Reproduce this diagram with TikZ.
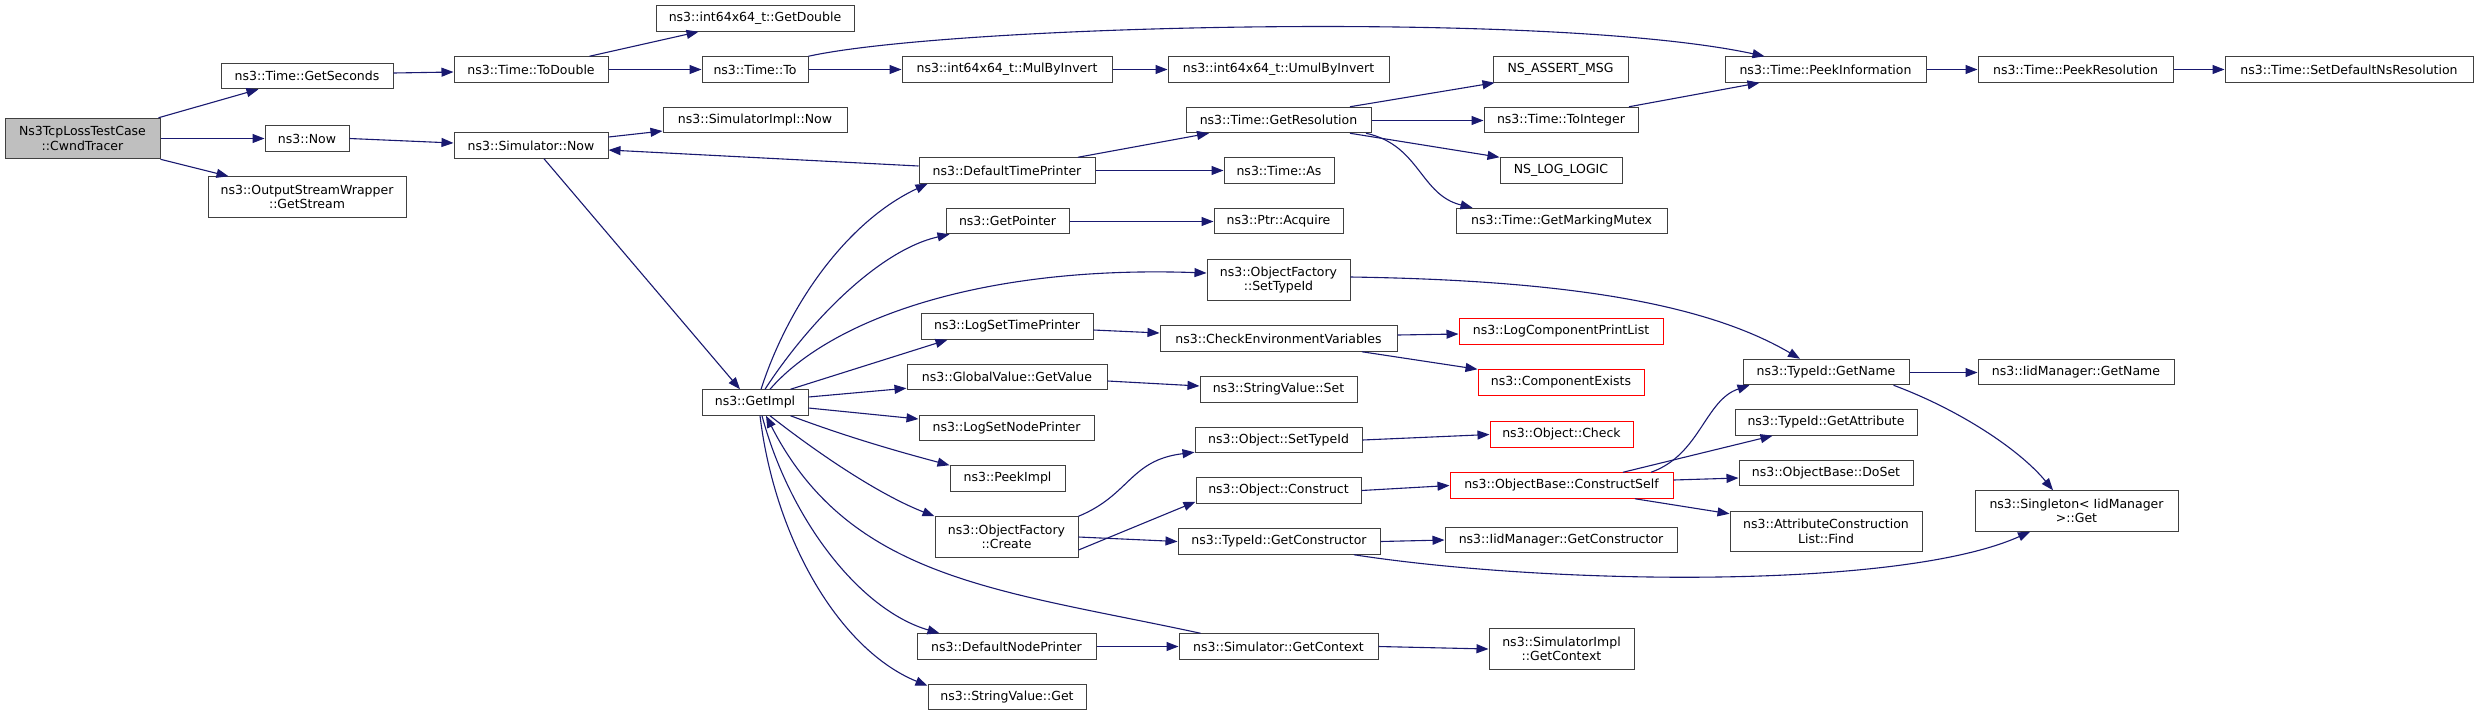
\documentclass[tikz,border=0pt]{standalone}
\usepackage{fontspec}
\setmainfont{DejaVu Sans}
\usetikzlibrary{arrows.meta}
\definecolor{navy}{HTML}{191970}
\newcommand{\dxf}{\fontsize{12.5}{14.4}\selectfont}
\begin{document}
\begin{tikzpicture}[x=1pt,y=1pt,
  box/.style={draw=black!75, line width=1pt, minimum height=25.5pt, inner sep=0pt, font=\dxf, fill=white},
  tbox/.style={box, minimum height=40.5pt, align=center},
  rbox/.style={box, draw=red},
  e/.style={draw=navy, line width=1.1pt, -{Triangle[length=12pt,width=9pt]}}]
\path[use as bounding box, fill=white] (0,0) rectangle (2479,-716);
% nodes
\node[tbox, minimum width=155pt, fill=black!25] (root) at (82.5,-138.5) {Ns3TcpLossTestCase\\::CwndTracer};
\node[box, minimum width=172pt] (gs) at (307,-76) {ns3::Time::GetSeconds};
\node[box, minimum width=84pt] (now) at (307,-138.5) {ns3::Now};
\node[tbox, minimum width=198pt] (osw) at (307,-197) {ns3::OutputStreamWrapper\\::GetStream};
\node[box, minimum width=154pt] (todbl) at (531,-69.5) {ns3::Time::ToDouble};
\node[box, minimum width=154pt] (simnow) at (531,-145.5) {ns3::Simulator::Now};
\node[box, minimum width=198pt] (getdbl) at (755,-18.5) {ns3::int64x64\_t::GetDouble};
\node[box, minimum width=106pt] (to) at (755,-69.5) {ns3::Time::To};
\node[box, minimum width=184pt] (simimplnow) at (755,-120) {ns3::SimulatorImpl::Now};
\node[box, minimum width=106pt] (getimpl) at (755,-402.5) {ns3::GetImpl};
\node[box, minimum width=210pt] (mul) at (1007,-69.5) {ns3::int64x64\_t::MulByInvert};
\node[box, minimum width=176pt] (dtp) at (1007,-170.5) {ns3::DefaultTimePrinter};
\node[box, minimum width=123pt] (getptr) at (1007.5,-221) {ns3::GetPointer};
\node[box, minimum width=172pt] (lstp) at (1007,-326.5) {ns3::LogSetTimePrinter};
\node[box, minimum width=200pt] (gv) at (1007,-377) {ns3::GlobalValue::GetValue};
\node[box, minimum width=175pt] (lsnp) at (1006.5,-428) {ns3::LogSetNodePrinter};
\node[box, minimum width=115pt] (peekimpl) at (1007.5,-478.5) {ns3::PeekImpl};
\node[tbox, minimum width=143pt] (create) at (1006.5,-537) {ns3::ObjectFactory\\::Create};
\node[box, minimum width=179pt] (dnp) at (1006.5,-646.5) {ns3::DefaultNodePrinter};
\node[box, minimum width=158pt] (svget) at (1007,-697) {ns3::StringValue::Get};
\node[box, minimum width=221pt] (umul) at (1278.5,-69.5) {ns3::int64x64\_t::UmulByInvert};
\node[box, minimum width=185pt] (getres) at (1278.5,-120) {ns3::Time::GetResolution};
\node[box, minimum width=110pt] (as) at (1279,-170.5) {ns3::Time::As};
\node[box, minimum width=129pt] (acquire) at (1278.5,-221) {ns3::Ptr::Acquire};
\node[tbox, minimum width=143pt] (ofsettid) at (1278.5,-280) {ns3::ObjectFactory\\::SetTypeId};
\node[box, minimum width=237pt] (cev) at (1278.5,-338.5) {ns3::CheckEnvironmentVariables};
\node[box, minimum width=157pt] (svset) at (1278.5,-389.5) {ns3::StringValue::Set};
\node[box, minimum width=167pt] (osettid) at (1278.5,-440) {ns3::Object::SetTypeId};
\node[box, minimum width=165pt] (oconstruct) at (1278.5,-490.5) {ns3::Object::Construct};
\node[box, minimum width=202pt] (gctor) at (1279,-541.5) {ns3::TypeId::GetConstructor};
\node[box, minimum width=199pt] (simgetctx) at (1278.5,-646.5) {ns3::Simulator::GetContext};
\node[box, minimum width=135pt] (assert) at (1560.5,-69.5) {NS\_ASSERT\_MSG};
\node[box, minimum width=154pt] (toint) at (1561,-120) {ns3::Time::ToInteger};
\node[box, minimum width=122pt] (logic) at (1561,-170.5) {NS\_LOG\_LOGIC};
\node[box, minimum width=211pt] (mutex) at (1561.5,-221) {ns3::Time::GetMarkingMutex};
\node[rbox, minimum width=204pt] (lcpl) at (1561,-331.5) {ns3::LogComponentPrintList};
\node[rbox, minimum width=166pt] (cexists) at (1561,-382.5) {ns3::ComponentExists};
\node[rbox, minimum width=143pt] (check) at (1561.5,-434.5) {ns3::Object::Check};
\node[rbox, minimum width=223pt] (cself) at (1561.5,-485.5) {ns3::ObjectBase::ConstructSelf};
\node[box, minimum width=232pt] (iidgctor) at (1561,-540) {ns3::IidManager::GetConstructor};
\node[tbox, minimum width=145pt] (implgetctx) at (1561.5,-649) {ns3::SimulatorImpl\\::GetContext};
\node[box, minimum width=201pt] (peekinfo) at (1825.5,-69.5) {ns3::Time::PeekInformation};
\node[box, minimum width=166pt] (tgetname) at (1826,-372) {ns3::TypeId::GetName};
\node[box, minimum width=182pt] (tgetattr) at (1826,-422.5) {ns3::TypeId::GetAttribute};
\node[box, minimum width=174pt] (doset) at (1826,-473) {ns3::ObjectBase::DoSet};
\node[tbox, minimum width=192pt] (afind) at (1826,-531.5) {ns3::AttributeConstruction\\List::Find};
\node[box, minimum width=195pt] (peekres) at (2075.5,-69.5) {ns3::Time::PeekResolution};
\node[box, minimum width=248pt] (setdef) at (2349,-69.5) {ns3::Time::SetDefaultNsResolution};
\node[box, minimum width=196pt] (iidgetname) at (2076,-372) {ns3::IidManager::GetName};
\node[tbox, minimum width=203pt] (singleton) at (2076.5,-511) {ns3::Singleton< IidManager\\ >::Get};
% edges
\draw[e] ([xshift=-2pt]root.north east) -- ([xshift=38pt]gs.south west);
\draw[e] (root.east) -- (now.west);
\draw[e] (root.south east) -- ([xshift=21pt]osw.north west);
\draw[e] ([yshift=3pt]gs.east) -- ([yshift=-2.5pt]todbl.west);
\draw[e] ([xshift=-19pt]todbl.north east) -- ([xshift=43pt]getdbl.south west);
\draw[e] (todbl.east) -- (to.west);
\draw[e] (to.east) -- (mul.west);
\draw[e] (to.north east) .. controls (950,-25) and (1550,-10) .. ([xshift=40pt]peekinfo.north west);
\draw[e] (mul.east) -- (umul.west);
\draw[e] (peekinfo.east) -- (peekres.west);
\draw[e] (peekres.east) -- (setdef.west);
\draw[e] (now.east) -- ([yshift=2.5pt]simnow.west);
\draw[e] ([yshift=8.5pt]simnow.east) -- ([yshift=-11pt]simimplnow.west);
\draw[e] ([xshift=13pt]simnow.south) -- ([xshift=-15pt]getimpl.north);
\draw[e] ([yshift=4.5pt]dtp.west) -- ([yshift=-4.5pt]simnow.east);
\draw[e] ([xshift=71pt]dtp.north) -- ([xshift=-69.5pt]getres.south);
\draw[e] (dtp.east) -- (as.west);
\draw[e] ([xshift=71.5pt]getres.north) -- ([xshift=2pt]assert.south west);
\draw[e] ([yshift=-0.5pt]getres.east) -- ([yshift=-0.5pt]toint.west);
\draw[e] ([xshift=71.5pt]getres.south) -- (logic.north west);
\draw[e] ([xshift=87.5pt]getres.south) .. controls (1420,-145) and (1420,-195) .. ([xshift=17pt]mutex.north west);
\draw[e] ([xshift=68pt]toint.north) -- ([xshift=35pt]peekinfo.south west);
\draw[e] ([xshift=6pt]getimpl.north) .. controls (790,-300) and (850,-220) .. ([xshift=9pt]dtp.south west);
\draw[e] ([xshift=10pt]getimpl.north) .. controls (810,-320) and (880,-250) .. ([xshift=4pt]getptr.south west);
\draw[e] ([yshift=-0.5pt]getptr.east) -- ([yshift=-0.5pt]acquire.west);
\draw[e] ([xshift=15pt]getimpl.north) .. controls (830,-320) and (980,-265) .. ([yshift=7pt]ofsettid.west);
\draw[e] ([yshift=3pt]ofsettid.east) .. controls (1550,-280) and (1700,-300) .. ([xshift=-26pt]tgetname.north);
\draw[e] ([xshift=-18pt]getimpl.north east) -- ([xshift=27pt]lstp.south west);
\draw[e] ([yshift=-3.5pt]lstp.east) -- ([yshift=5.5pt]cev.west);
\draw[e] ([yshift=3.5pt]cev.east) -- ([yshift=-2.5pt]lcpl.west);
\draw[e] ([xshift=83.5pt]cev.south) -- (cexists.north west);
\draw[e] ([yshift=5.5pt]getimpl.east) -- ([yshift=2pt]gv.south west);
\draw[e] ([yshift=-4pt]gv.east) -- ([yshift=3.5pt]svset.west);
\draw[e] ([yshift=-5.5pt]getimpl.east) -- ([yshift=9pt]lsnp.west);
\draw[e] ([xshift=-18pt]getimpl.south east) .. controls (850,-438) and (900,-452) .. (peekimpl.north west);
\draw[e] ([xshift=15pt]getimpl.south) .. controls (820,-455) and (880,-495) .. (create.north west);
\draw[e] (create.north east) .. controls (1130,-495) and (1130,-460) .. ([yshift=1pt]osettid.south west);
\draw[e] ([yshift=-13pt]create.east) -- ([yshift=2pt]oconstruct.south west);
\draw[e] (create.east) -- (gctor.west);
\draw[e] (osettid.east) -- (check.west);
\draw[e] (oconstruct.east) -- (cself.west);
\draw[e] ([xshift=89.5pt]cself.north) .. controls (1700,-455) and (1705,-400) .. ([xshift=7pt]tgetname.south west);
\draw[e] ([xshift=61.5pt]cself.north) -- ([xshift=38pt]tgetattr.south west);
\draw[e] ([yshift=5.5pt]cself.east) -- ([yshift=-5pt]doset.west);
\draw[e] ([xshift=73.5pt]cself.south) -- ([yshift=-3pt]afind.north west);
\draw[e] (gctor.east) -- (iidgctor.west);
\draw[e] ([xshift=75pt]gctor.south) .. controls (1550,-585) and (1900,-590) .. ([xshift=-46.5pt]singleton.south);
\draw[e] ([yshift=-0.5pt]tgetname.east) -- ([yshift=-0.5pt]iidgetname.west);
\draw[e] ([xshift=-16pt]tgetname.south east) .. controls (1960,-410) and (2020,-450) .. ([xshift=-23.5pt]singleton.north);
\draw[e] ([xshift=7pt]getimpl.south) .. controls (790,-520) and (860,-610) .. ([xshift=23pt]dnp.north west);
\draw[e] ([xshift=5pt]getimpl.south) .. controls (775,-540) and (840,-650) .. ([yshift=-2pt]svget.north west);
\draw[e] (dnp.east) -- (simgetctx.west);
\draw[e] ([xshift=22pt]simgetctx.north west) .. controls (1000,-590) and (850,-580) .. ([xshift=11pt]getimpl.south);
\draw[e] (simgetctx.east) -- (implgetctx.west);
\end{tikzpicture}
\end{document}
